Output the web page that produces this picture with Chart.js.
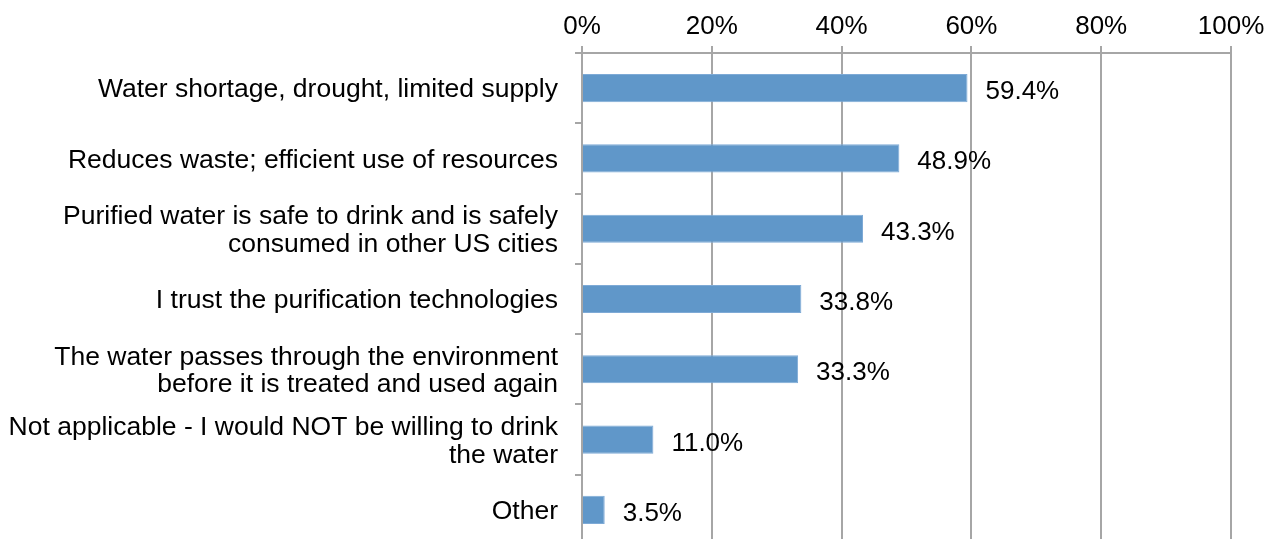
<!DOCTYPE html>
<html>
<head>
<meta charset="utf-8">
<script src="https://cdn.jsdelivr.net/npm/chart.js@4/dist/chart.umd.min.js"></script>
<style>
  html, body { margin: 0; padding: 0; background: #fff; overflow: hidden; }
  #wrap { width: 1267px; height: 545px; }
</style>
</head>
<body>
<div id="wrap"><canvas id="chartRazones"></canvas></div>
<script>
const categories = [
    'Water shortage, drought, limited supply',
    'Reduces waste; efficient use of resources',
    ['Purified water is safe to drink and is safely', 'consumed in other US cities'],
    'I trust the purification technologies',
    ['The water passes through the environment', 'before it is treated and used again'],
    ['Not applicable - I would NOT be willing to drink', 'the water'],
    'Other'
];
const percentages = [59.4, 48.9, 43.3, 33.8, 33.3, 11.0, 3.5];
const tickValues = [0, 20, 40, 60, 80, 100];

const fontFamily = '"Liberation Sans", Arial, sans-serif';
const gridColor = '#a6a6a6';

// writes the percentage just past the end of each bar
const valueLabels = {
    id: 'valueLabels',
    afterDatasetsDraw(chart) {
        const ctx = chart.ctx;
        const meta = chart.getDatasetMeta(0);
        ctx.save();
        ctx.font = '26px ' + fontFamily;
        ctx.fillStyle = '#000';
        ctx.textAlign = 'left';
        ctx.textBaseline = 'alphabetic';
        meta.data.forEach((bar, i) => {
            ctx.fillText(percentages[i].toFixed(1) + '%', bar.x + 18, bar.y + 11);
        });
        ctx.restore();
    }
};

const ctx = document.getElementById('chartRazones').getContext('2d');

const chartRazones = new Chart(ctx, {
    type: 'bar',
    data: {
        labels: categories,
        datasets: [{
            data: percentages,
            backgroundColor: '#6097c9',
            borderColor: '#7eaad6',
            borderWidth: 1,
            categoryPercentage: 1,
            barPercentage: 0.4
        }]
    },
    options: {
        indexAxis: 'y',
        responsive: true,
        maintainAspectRatio: false,
        animation: false,
        layout: { padding: { top: 0, right: 36, bottom: 0, left: 0 } },
        plugins: {
            legend: { display: false },
            tooltip: { enabled: false }
        },
        scales: {
            x: {
                position: 'top',
                min: 0,
                max: 100,
                afterBuildTicks: scale => {
                    scale.ticks = tickValues.map(v => ({ value: v }));
                },
                ticks: {
                    color: '#000',
                    padding: 4,
                    font: { family: fontFamily, size: 26 },
                    callback: v => v + '%'
                },
                grid: {
                    color: gridColor,
                    lineWidth: 2,
                    tickLength: 7
                },
                border: { color: gridColor, width: 2 },
                afterFit: scale => {
                    scale.height = 53;
                    scale.paddingLeft = 0;
                    scale.paddingRight = 0;
                }
            },
            y: {
                ticks: {
                    color: '#000',
                    padding: 17,
                    labelOffset: 2,
                    font: { family: fontFamily, size: 26.5, lineHeight: 1.04 }
                },
                grid: {
                    offset: true,
                    drawOnChartArea: false,
                    color: gridColor,
                    lineWidth: 2,
                    tickLength: 7
                },
                border: { color: gridColor, width: 2 },
                afterFit: scale => {
                    scale.width = 582;
                    scale.paddingTop = 0;
                    scale.paddingBottom = 0;
                }
            }
        }
    },
    plugins: [valueLabels]
});
</script>
</body>
</html>
